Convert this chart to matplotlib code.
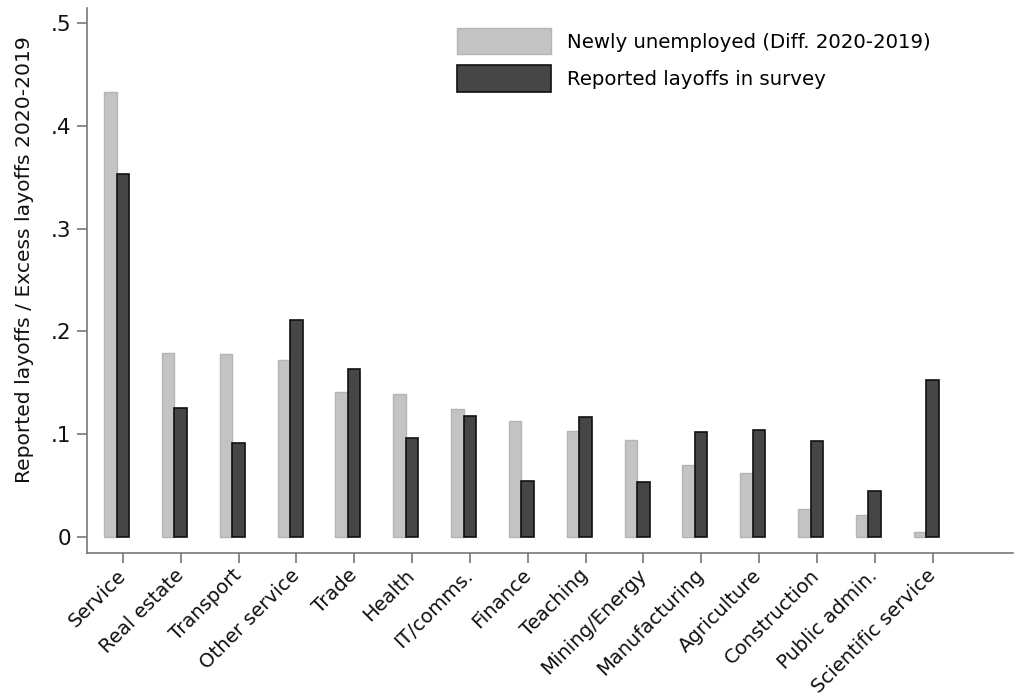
import numpy as np
import matplotlib
matplotlib.use('Agg')
import matplotlib.pyplot as plt
import matplotlib.transforms as mtransforms

sectors = ['Service', 'Real estate', 'Transport', 'Other service', 'Trade', 'Health',
           'IT/comms.', 'Finance', 'Teaching', 'Mining/Energy', 'Manufacturing',
           'Agriculture', 'Construction', 'Public admin.', 'Scientific service']
newly_unemployed = [0.433, 0.179, 0.178, 0.172, 0.141, 0.139, 0.124, 0.113, 0.103,
                    0.094, 0.070, 0.062, 0.027, 0.021, 0.005]
reported_layoffs = [0.353, 0.125, 0.091, 0.211, 0.163, 0.096, 0.118, 0.054, 0.117,
                    0.053, 0.102, 0.104, 0.093, 0.045, 0.153]

plt.rcParams['font.family'] = 'DejaVu Sans'

fig = plt.figure(figsize=(10.19, 7.00), dpi=100)
ax = fig.add_axes([0.0854, 0.21, 0.9086, 0.7786])

x = np.arange(len(sectors))
w = 0.216
ax.bar(x - w, newly_unemployed, width=w, color='#c3c3c3', edgecolor='#b4b4b4',
       linewidth=1, label='Newly unemployed (Diff. 2020-2019)')
ax.bar(x, reported_layoffs, width=w, color='#464646', edgecolor='#111111',
       linewidth=1.2, label='Reported layoffs in survey')

ax.set_xlim(-0.62, 15.39)
ax.set_ylim(-0.0156, 0.5146)
ax.set_yticks([0, 0.1, 0.2, 0.3, 0.4, 0.5])
ax.set_yticklabels(['0', '.1', '.2', '.3', '.4', '.5'])
ax.set_xticks(x)
ax.set_xticklabels(sectors, rotation=45, ha='right', va='center', rotation_mode='anchor')
# shift the slanted labels a few pixels right
offset = mtransforms.ScaledTranslation(3 / 100, 0, fig.dpi_scale_trans)
for lbl in ax.get_xticklabels():
    lbl.set_transform(lbl.get_transform() + offset)

for s in ['top', 'right']:
    ax.spines[s].set_visible(False)
for s in ['left', 'bottom']:
    ax.spines[s].set_color('#777777')
    ax.spines[s].set_linewidth(1.2)
ax.tick_params(axis='y', colors='#777777', labelcolor='#111111', labelsize=15.5,
               length=7, width=1.2, pad=4)
ax.tick_params(axis='x', colors='#777777', labelcolor='#111111', labelsize=14.1,
               length=7, width=1.2, pad=7)

ax.set_ylabel('Reported layoffs / Excess layoffs 2020-2019', fontsize=14.6,
              color='#111111')
ax.yaxis.set_label_coords(-0.0575, 0.5376)

ax.legend(loc='upper left', bbox_to_anchor=(457 / 1019, 1 - 28 / 700),
          bbox_transform=fig.transFigure, frameon=False, fontsize=14.2,
          borderpad=0, borderaxespad=0,
          handlelength=4.77, handleheight=1.68, handletextpad=0.8, labelspacing=0.56)

fig.savefig('out.png', dpi=100)
